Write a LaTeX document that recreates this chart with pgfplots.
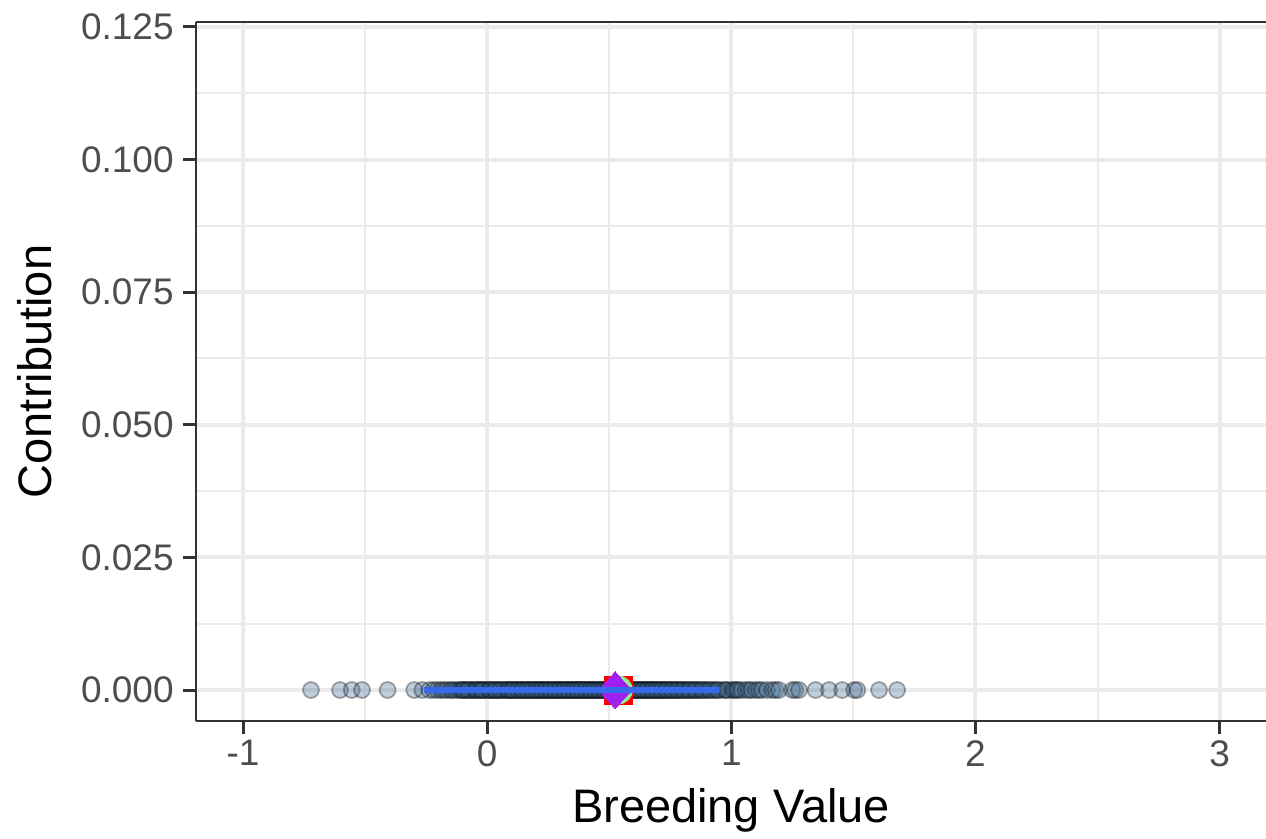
\documentclass[border=0pt]{standalone}
\usepackage{pgfplots}
\pgfplotsset{compat=1.18}
\usepackage{fontspec}
\setmainfont{Liberation Sans}

\definecolor{gridc}{RGB}{235,235,235}
\definecolor{axc}{RGB}{51,51,51}
\definecolor{tickc}{RGB}{77,77,77}
\definecolor{ptfill}{RGB}{62,105,145}
\definecolor{meanline}{RGB}{55,105,235}
\definecolor{mpurple}{RGB}{160,32,240}
\definecolor{mgreen}{RGB}{144,238,144}
\definecolor{mred}{RGB}{255,0,0}

% breeding values of all candidates (contribution zero)
\pgfplotstableread{
bv contrib
-0.722 0
-0.603 0
-0.555 0
-0.513 0
-0.408 0
-0.299 0
-0.266 0
-0.237 0
-0.220 0
-0.205 0
-0.190 0
-0.178 0
-0.166 0
-0.151 0
-0.143 0
-0.131 0
-0.118 0
-0.109 0
-0.097 0
-0.084 0
-0.072 0
-0.063 0
-0.051 0
-0.040 0
-0.028 0
-0.019 0
-0.007 0
0.004 0
0.013 0
0.025 0
0.036 0
0.047 0
0.058 0
0.066 0
0.079 0
0.088 0
0.097 0
0.108 0
0.117 0
0.129 0
0.138 0
0.146 0
0.157 0
0.168 0
0.176 0
0.187 0
0.196 0
0.205 0
0.216 0
0.224 0
0.233 0
0.244 0
0.252 0
0.261 0
0.272 0
0.281 0
0.289 0
0.298 0
0.307 0
0.318 0
0.326 0
0.334 0
0.345 0
0.353 0
0.362 0
0.371 0
0.379 0
0.388 0
0.397 0
0.405 0
0.416 0
0.424 0
0.433 0
0.441 0
0.452 0
0.461 0
0.469 0
0.478 0
0.487 0
0.496 0
0.505 0
0.513 0
0.522 0
0.531 0
0.540 0
0.549 0
0.558 0
0.566 0
0.577 0
0.585 0
0.594 0
0.603 0
0.612 0
0.622 0
0.631 0
0.640 0
0.649 0
0.659 0
0.668 0
0.678 0
0.687 0
0.698 0
0.707 0
0.718 0
0.727 0
0.738 0
0.748 0
0.759 0
0.771 0
0.782 0
0.794 0
0.806 0
0.818 0
0.831 0
0.845 0
0.858 0
0.872 0
0.887 0
0.902 0
0.918 0
0.935 0
0.952 0
0.968 0
0.985 0
1.003 0
-0.093 0
-0.061 0
-0.034 0
-0.012 0
0.018 0
0.041 0
0.071 0
0.093 0
0.112 0
0.134 0
0.152 0
0.171 0
0.191 0
0.211 0
0.228 0
0.248 0
0.266 0
0.285 0
0.303 0
0.322 0
0.341 0
0.358 0
0.376 0
0.394 0
0.412 0
0.429 0
0.447 0
0.465 0
0.483 0
0.501 0
0.518 0
0.536 0
0.554 0
0.573 0
0.591 0
0.609 0
0.627 0
0.646 0
0.664 0
0.683 0
0.702 0
0.722 0
0.743 0
0.766 0
0.789 0
0.813 0
0.838 0
0.866 0
0.894 0
0.927 0
-0.102 0
-0.079 0
-0.046 0
-0.023 0
0.009 0
0.031 0
0.053 0
0.084 0
0.102 0
0.123 0
0.143 0
0.162 0
0.181 0
0.201 0
0.220 0
0.239 0
0.257 0
0.276 0
0.294 0
0.313 0
0.331 0
0.350 0
0.367 0
0.385 0
0.403 0
0.421 0
0.438 0
0.456 0
0.474 0
0.492 0
0.510 0
0.527 0
0.545 0
0.563 0
0.582 0
0.600 0
0.618 0
0.636 0
0.655 0
0.674 0
0.693 0
0.712 0
0.733 0
0.755 0
0.777 0
0.801 0
0.825 0
0.852 0
0.880 0
0.910 0
0.943 0
0.977 0
1.011 0
1.021 0
1.028 0
1.041 0
1.059 0
1.072 0
1.083 0
1.100 0
1.112 0
1.125 0
1.146 0
1.168 0
1.181 0
1.195 0
1.250 0
1.262 0
1.277 0
1.345 0
1.400 0
1.454 0
1.503 0
1.516 0
1.605 0
1.679 0
}\candidates

\begin{document}
\begin{tikzpicture}
\begin{axis}[
  at={(0,0)}, anchor=south west,
  scale only axis,
  width=535pt, height=349.5pt,
  xmin=-1.193, xmax=3.19,
  ymin=-0.00584, ymax=0.12594,
  axis lines*=left,
  axis line style={axc, line width=1pt},
  tick align=outside,
  major tick length=6.5pt,
  minor tick length=0pt,
  tick style={axc, line width=1.5pt},
  xtick={-1,0,1,2,3},
  xticklabels={-1,0,1,2,3},
  minor xtick={-0.5,0.5,1.5,2.5},
  ytick={0,0.025,0.05,0.075,0.1,0.125},
  yticklabels={0.000,0.025,0.050,0.075,0.100,0.125},
  minor ytick={0.0125,0.0375,0.0625,0.0875,0.1125},
  grid=both,
  major grid style={gridc, line width=2pt},
  minor grid style={gridc, line width=1pt},
  ticklabel style={font=\fontsize{18.5}{18.5}\selectfont, text=tickc},
  xticklabel style={anchor=north, inner sep=0pt, yshift=-3pt},
  yticklabel style={anchor=east, inner sep=0pt, xshift=-4.5pt},
  xlabel={Breeding Value},
  ylabel={Contribution},
  label style={font=\fontsize{23.5}{23.5}\selectfont, text=black, inner sep=0pt},
  xlabel style={at={(axis description cs:0.5,-0.1459)}, anchor=base},
  ylabel style={at={(axis description cs:-0.1346,0.5)}, anchor=base},
  clip=false,
  clip marker paths=true,
]
% candidate points
\addplot[only marks, mark=*, mark size=4pt,
  mark options={fill=ptfill, draw=black, line width=0.9pt, opacity=0.32}]
  table[x=bv, y=contrib] {\candidates};
% group summaries
\addplot[only marks, draw=none, mark=square*, mark size=7pt,
  mark options={fill=mred, draw=mred}]
  coordinates {(0.536,0)};
\addplot[only marks, draw=none, mark=*, mark size=7pt,
  mark options={fill=mgreen, draw=mgreen}]
  coordinates {(0.537,0)};
\addplot[only marks, draw=none, mark=diamond*, mark size=9.2pt,
  mark options={fill=mpurple, draw=mpurple, line width=0pt, xscale=1.2}]
  coordinates {(0.524,0)};
% fitted contribution line
\addplot[meanline, line width=3pt, mark=none] coordinates {(-0.26,0) (0.95,0)};
% top border of the panel
\draw[axc, line width=1pt] (rel axis cs:0,1) -- (rel axis cs:1,1);
\end{axis}
\pgfresetboundingbox
\path[use as bounding box] (-98pt,-59pt) rectangle (535pt,360.5pt);
\end{tikzpicture}
\end{document}
